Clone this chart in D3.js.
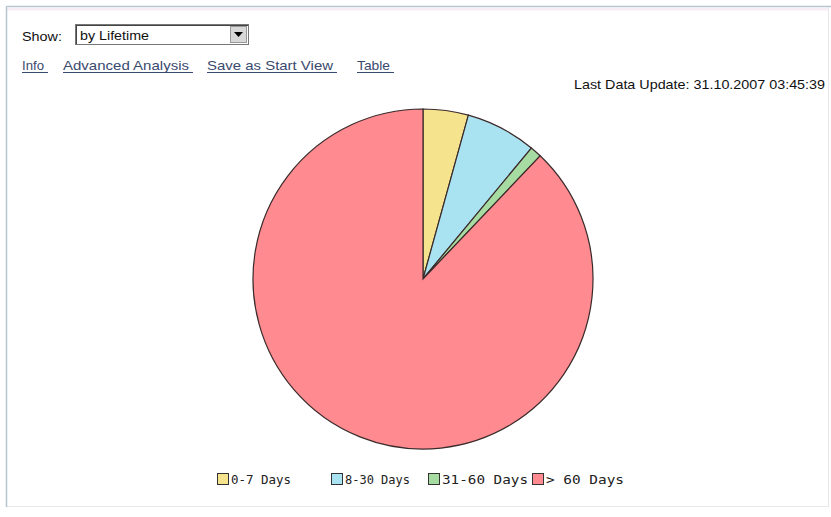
<!DOCTYPE html>
<html lang="en">
<head>
    <meta charset="UTF-8">
    <title>by Lifetime</title>
    <script src="https://d3js.org/d3.v7.min.js"></script>
    <style>
        html, body { margin: 0; padding: 0; background: #fff; }
        svg { display: block; }
    </style>
</head>
<body>
    <svg id="chart" width="831" height="517"></svg>
    <script>
        // data (share of items, %)
        const categories = ["0-7 Days", "8-30 Days", "31-60 Days", "> 60 Days"];
        const values = [4.3, 6.7, 1.1, 87.9];
        const colors = ["#f6e38e", "#a9e3f2", "#a6dca2", "#ff8a90"];
        const links = ["Info", "Advanced Analysis", "Save as Start View", "Table"];
        const linkX = [22, 63, 207, 357];
        const linkW = [22, 126, 126, 33];
        const updateText = "Last Data Update: 31.10.2007 03:45:39";

        const svg = d3.select("#chart");
        const font = "'Liberation Sans', Arial, sans-serif";

        // panel frame
        svg.append("rect").attr("x", 6.5).attr("y", 6.5).attr("width", 822).attr("height", 500)
            .attr("fill", "#fff").attr("stroke", "#e6e8ea");
        svg.append("line").attr("x1", 6.5).attr("x2", 831).attr("y1", 6.5).attr("y2", 6.5)
            .attr("stroke", "#b6c6ce").attr("stroke-width", 1.5);
        svg.append("line").attr("x1", 7).attr("x2", 828).attr("y1", 9).attr("y2", 9)
            .attr("stroke", "#f6eef4").attr("stroke-width", 3);
        svg.append("line").attr("x1", 6.5).attr("x2", 6.5).attr("y1", 6.5).attr("y2", 507)
            .attr("stroke", "#b6c6ce").attr("stroke-width", 1.5);

        // header controls
        svg.append("text").attr("x", 22).attr("y", 41).attr("font-family", font)
            .attr("font-size", 13).attr("fill", "#111")
            .attr("textLength", 40).attr("lengthAdjust", "spacingAndGlyphs").text("Show:");
        svg.append("rect").attr("x", 75.5).attr("y", 24.5).attr("width", 173).attr("height", 20)
            .attr("fill", "#fff").attr("stroke", "#777");
        svg.append("line").attr("x1", 76).attr("x2", 248).attr("y1", 25.5).attr("y2", 25.5).attr("stroke", "#444");
        svg.append("line").attr("x1", 76.5).attr("x2", 76.5).attr("y1", 25).attr("y2", 44).attr("stroke", "#444");
        svg.append("text").attr("x", 80).attr("y", 40).attr("font-family", font)
            .attr("font-size", 13).attr("fill", "#111")
            .attr("textLength", 69).attr("lengthAdjust", "spacingAndGlyphs").text("by Lifetime");
        svg.append("rect").attr("x", 230.5).attr("y", 26.5).attr("width", 16).attr("height", 16)
            .attr("fill", "#d8d8d8").attr("stroke", "#999");
        svg.append("path").attr("d", "M234,32 L243,32 L238.5,37 Z").attr("fill", "#000");

        const linkG = svg.append("g");
        links.forEach((t, i) => {
            linkG.append("text").attr("x", linkX[i]).attr("y", 70).attr("font-family", font)
                .attr("font-size", 13).attr("fill", "#3a4a6e")
                .attr("textLength", linkW[i]).attr("lengthAdjust", "spacingAndGlyphs").text(t);
            linkG.append("line").attr("x1", linkX[i]).attr("x2", linkX[i] + linkW[i] + 4)
                .attr("y1", 72.5).attr("y2", 72.5).attr("stroke", "#3a4a6e");
        });

        svg.append("text").attr("x", 825).attr("y", 89).attr("text-anchor", "end")
            .attr("font-family", font).attr("font-size", 13).attr("fill", "#111")
            .attr("textLength", 251).attr("lengthAdjust", "spacingAndGlyphs").text(updateText);

        // pie
        const cx = 423, cy = 279, radius = 170;
        const pie = d3.pie().sort(null).value(d => d);
        const arc = d3.arc().innerRadius(0).outerRadius(radius);
        const color = d3.scaleOrdinal().domain(categories).range(colors);

        svg.append("g").attr("transform", `translate(${cx},${cy})`)
            .selectAll("path")
            .data(pie(values))
            .enter()
            .append("path")
            .attr("d", arc)
            .attr("fill", (_, i) => color(categories[i]))
            .attr("stroke", "#3a2a2a")
            .attr("stroke-width", 1.2);

        // legend
        const legendX = [217, 331, 428, 532];
        const legendW = [60, 65, 86, 78];
        const mono = "'DejaVu Sans Mono', 'Liberation Mono', monospace";
        const lg = svg.append("g");
        categories.forEach((c, i) => {
            lg.append("rect").attr("x", legendX[i] + 0.5).attr("y", 473.5)
                .attr("width", 11).attr("height", 11)
                .attr("fill", color(c)).attr("stroke", "#333");
            lg.append("text").attr("x", legendX[i] + 14).attr("y", 484)
                .attr("font-family", mono).attr("font-size", 13).attr("fill", "#222")
                .attr("textLength", legendW[i]).attr("lengthAdjust", "spacingAndGlyphs").text(c);
        });
    </script>
</body>
</html>
